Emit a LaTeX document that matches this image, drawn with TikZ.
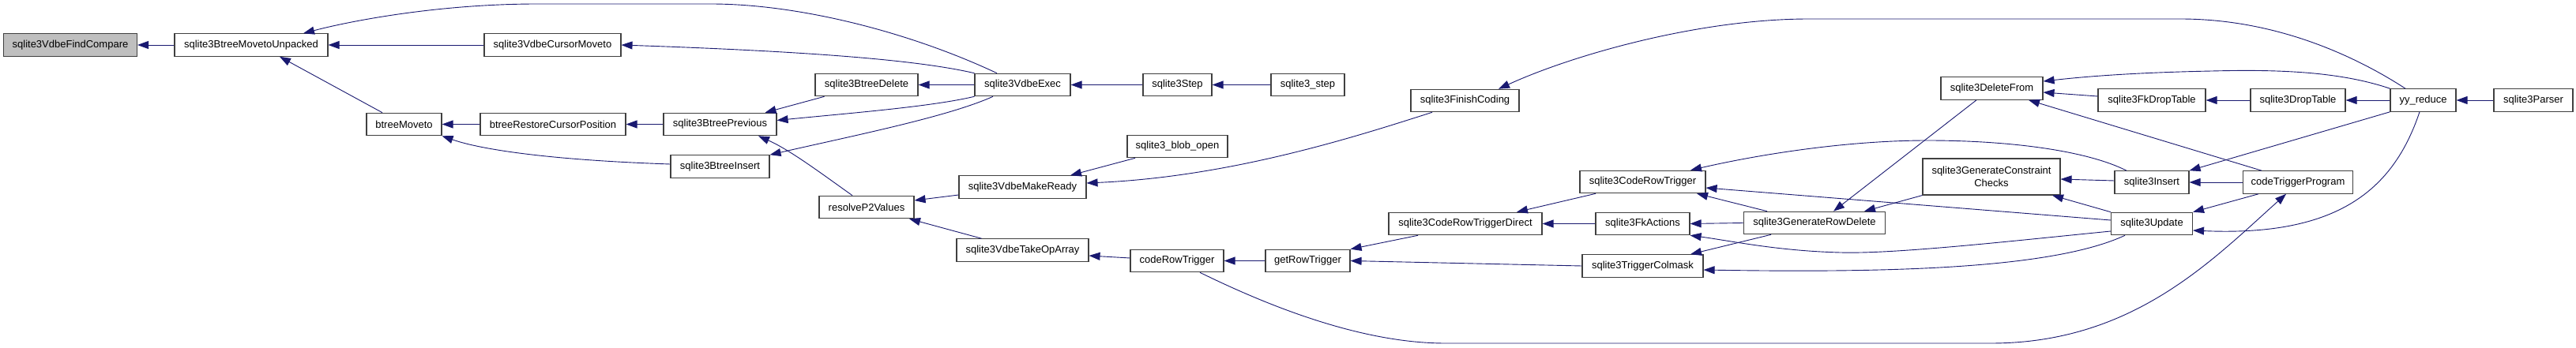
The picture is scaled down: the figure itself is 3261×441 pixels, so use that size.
\documentclass[tikz,border=0pt]{standalone}
\usepackage{fontspec}
\setmainfont{Liberation Sans}
\usetikzlibrary{arrows.meta}
\definecolor{edgeblue}{HTML}{191970}
\definecolor{boxline}{HTML}{404040}
\definecolor{boxfill}{HTML}{BFBFBF}
\begin{document}
\begin{tikzpicture}[x=1pt,y=-1pt,
  fn/.style={draw=boxline, line width=1.1pt, fill=white, minimum height=28.5pt, inner sep=0pt, font=\fontsize{13}{15.5}\selectfont, anchor=center},
  cur/.style={fn, fill=boxfill},
  edge/.style={draw=edgeblue, line width=0.9pt, -{Triangle[length=14pt,width=10pt]}}]
\useasboundingbox[fill=white] (0,0) rectangle (3261,441);

\node[cur, minimum width=169pt] (FC) at (89,57) {sqlite3VdbeFindCompare};
\node[fn, minimum width=194pt] (MU) at (318,57) {sqlite3BtreeMovetoUnpacked};
\node[fn, minimum width=95pt] (BM) at (511.5,157.5) {btreeMoveto};
\node[fn, minimum width=173pt] (CM) at (699.5,57) {sqlite3VdbeCursorMoveto};
\node[fn, minimum width=184pt] (RCP) at (700,157.5) {btreeRestoreCursorPosition};
\node[fn, minimum width=143pt] (BP) at (911.5,157.5) {sqlite3BtreePrevious};
\node[fn, minimum width=125pt] (BI) at (911.5,211) {sqlite3BtreeInsert};
\node[fn, minimum width=130pt] (BD) at (1097,107.5) {sqlite3BtreeDelete};
\node[fn, minimum width=120pt] (RP) at (1097,262.5) {resolveP2Values};
\node[fn, minimum width=121pt] (VE) at (1294.5,107.5) {sqlite3VdbeExec};
\node[fn, minimum width=87pt] (ST) at (1490.5,107.5) {sqlite3Step};
\node[fn, minimum width=93pt] (SS) at (1655.5,107.5) {sqlite3\_step};
\node[fn, minimum width=127pt] (BO) at (1490.5,185.5) {sqlite3\_blob\_open};
\node[fn, minimum width=161pt] (MR) at (1294.5,237) {sqlite3VdbeMakeReady};
\node[fn, minimum width=167pt] (TO) at (1294.5,317) {sqlite3VdbeTakeOpArray};
\node[fn, minimum width=118pt] (CRT) at (1490,330.5) {codeRowTrigger};
\node[fn, minimum width=107pt] (GRT) at (1655.5,330.5) {getRowTrigger};
\node[fn, minimum width=137pt] (FIN) at (1854.5,127.5) {sqlite3FinishCoding};
\node[fn, minimum width=159pt] (CRG) at (2079.5,230.5) {sqlite3CodeRowTrigger};
\node[fn, minimum width=194pt] (CRD) at (1855,283.5) {sqlite3CodeRowTriggerDirect};
\node[fn, minimum width=119pt] (FKA) at (2079.5,283.5) {sqlite3FkActions};
\node[fn, minimum width=153pt] (TCM) at (2079.5,337) {sqlite3TriggerColmask};
\node[fn, minimum width=129pt] (DF) at (2521.5,112) {sqlite3DeleteFrom};
\node[fn, minimum width=136pt] (FDT) at (2724,127) {sqlite3FkDropTable};
\node[fn, minimum width=174pt, minimum height=46pt, align=center] (GCC) at (2521,224) {sqlite3GenerateConstraint\\Checks};
\node[fn, minimum width=179.5pt] (GRD) at (2297,282.5) {sqlite3GenerateRowDelete};
\node[fn, minimum width=94pt] (INS) at (2724,231) {sqlite3Insert};
\node[fn, minimum width=103pt] (UPD) at (2724,283.5) {sqlite3Update};
\node[fn, minimum width=120pt] (DT) at (2909,127) {sqlite3DropTable};
\node[fn, minimum width=83pt] (YY) at (3067.5,127) {yy\_reduce};
\node[fn, minimum width=100pt] (PAR) at (3207,127) {sqlite3Parser};
\node[fn, minimum width=139pt] (CTP) at (2909,231) {codeTriggerProgram};

% edges (arrow at the called function)
\draw[edge] (MU.west) -- (FC.east);
\draw[edge] (CM.west) -- (MU.east);
\draw[edge] ([xshift=-27.5]BM.north) -- ([xshift=36]MU.south);
\draw[edge] ([xshift=-32.5]VE.north) .. controls (1150,40) and (1010,5) .. (900,5) -- (680,5) .. controls (560,5) and (450,25) .. ([xshift=66]MU.north);
\draw[edge] (VE.north west) .. controls (1170,78) and (1050,66) .. (CM.east);
\draw[edge] (RCP.west) -- (BM.east);
\draw[edge] ([yshift=3]BI.west) .. controls (700,203) and (610,190) .. (BM.south east);
\draw[edge] (BP.west) -- (RCP.east);
\draw[edge] ([xshift=-53.4]BD.south) -- ([xshift=57]BP.north);
\draw[edge] (VE.south west) .. controls (1180,135) and (1080,143) .. ([yshift=5]BP.east);
\draw[edge] ([xshift=-37.5]VE.south) .. controls (1200,148) and (1080,172) .. (BI.north east);
\draw[edge] ([xshift=-18]RP.north) .. controls (1040,220) and (1000,190) .. ([xshift=48.5]BP.south);
\draw[edge] (VE.west) -- (BD.east);
\draw[edge] (ST.west) -- (VE.east);
\draw[edge] (SS.west) -- (ST.east);
\draw[edge] ([yshift=-10]MR.west) -- ([yshift=8.5]RP.east);
\draw[edge] ([xshift=-52]TO.north) -- ([xshift=54]RP.south);
\draw[edge] ([xshift=-53.5]BO.south) -- ([xshift=60.5]MR.north);
\draw[edge] ([xshift=-41.5]FIN.south) .. controls (1720,172) and (1560,224) .. ([yshift=5]MR.east);
\draw[edge] ([xshift=-22.5]YY.north) .. controls (2980,70) and (2880,24) .. (2760,24) -- (2290,24) .. controls (2150,24) and (1990,70) .. ([xshift=42.5]FIN.north);
\draw[edge] ([yshift=3.5]CRT.west) -- ([yshift=-7]TO.east);
\draw[edge] (GRT.west) -- (CRT.east);
\draw[edge] ([xshift=29]CRT.south) .. controls (1600,385) and (1720,435) .. (1830,435) -- (2520,435) .. controls (2700,435) and (2800,330) .. ([xshift=-15]CTP.south);
\draw[edge] ([xshift=-60]CRD.south) -- (GRT.north east);
\draw[edge] (TCM.west) -- (GRT.east);
\draw[edge] ([xshift=-59.5]CRG.south) -- ([xshift=65]CRD.north);
\draw[edge] (FKA.west) -- (CRD.east);
\draw[edge] ([xshift=-32]INS.north) .. controls (2640,190) and (2540,178) .. (2440,178) .. controls (2340,178) and (2230,195) .. ([xshift=60.5]CRG.north);
\draw[edge] ([yshift=4.5]UPD.west) -- ([yshift=-7.5]CRG.east);
\draw[edge] ([xshift=-60]GRD.north) -- ([xshift=68.5]CRG.south);
\draw[edge] (GRD.west) -- (FKA.east);
\draw[edge] ([yshift=-9.5]UPD.west) .. controls (2550,305) and (2400,322) .. (2330,320) .. controls (2250,318) and (2190,305) .. (FKA.south east);
\draw[edge] ([xshift=-55]GRD.south) -- ([xshift=60.5]TCM.north);
\draw[edge] ([xshift=-34]UPD.south) .. controls (2600,340) and (2400,346) .. ([yshift=-5]TCM.east);
\draw[edge] ([xshift=-19.5]DF.south) -- ([xshift=24]GRD.north);
\draw[edge] (GCC.south west) -- ([xshift=63]GRD.north);
\draw[edge] ([yshift=2]INS.west) -- ([yshift=-3]GCC.east);
\draw[edge] (UPD.north west) -- ([xshift=77]GCC.south);
\draw[edge] (YY.north west) .. controls (2960,90) and (2880,88) .. (2800,90) .. controls (2700,92) and (2640,97) .. ([yshift=9]DF.east);
\draw[edge] ([yshift=5]FDT.west) -- ([yshift=-5]DF.east);
\draw[edge] ([xshift=-46]CTP.north) -- ([xshift=46.5]DF.south);
\draw[edge] (DT.west) -- (FDT.east);
\draw[edge] (YY.west) -- (DT.east);
\draw[edge] (PAR.west) -- (YY.east);
\draw[edge] (YY.south west) -- (INS.north east);
\draw[edge] (CTP.west) -- (INS.east);
\draw[edge] ([xshift=-50]CTP.south) -- (UPD.north east);
\draw[edge] ([xshift=-4.5]YY.south) .. controls (3030,240) and (2960,300) .. ([yshift=-8.5]UPD.east);
\end{tikzpicture}
\end{document}
